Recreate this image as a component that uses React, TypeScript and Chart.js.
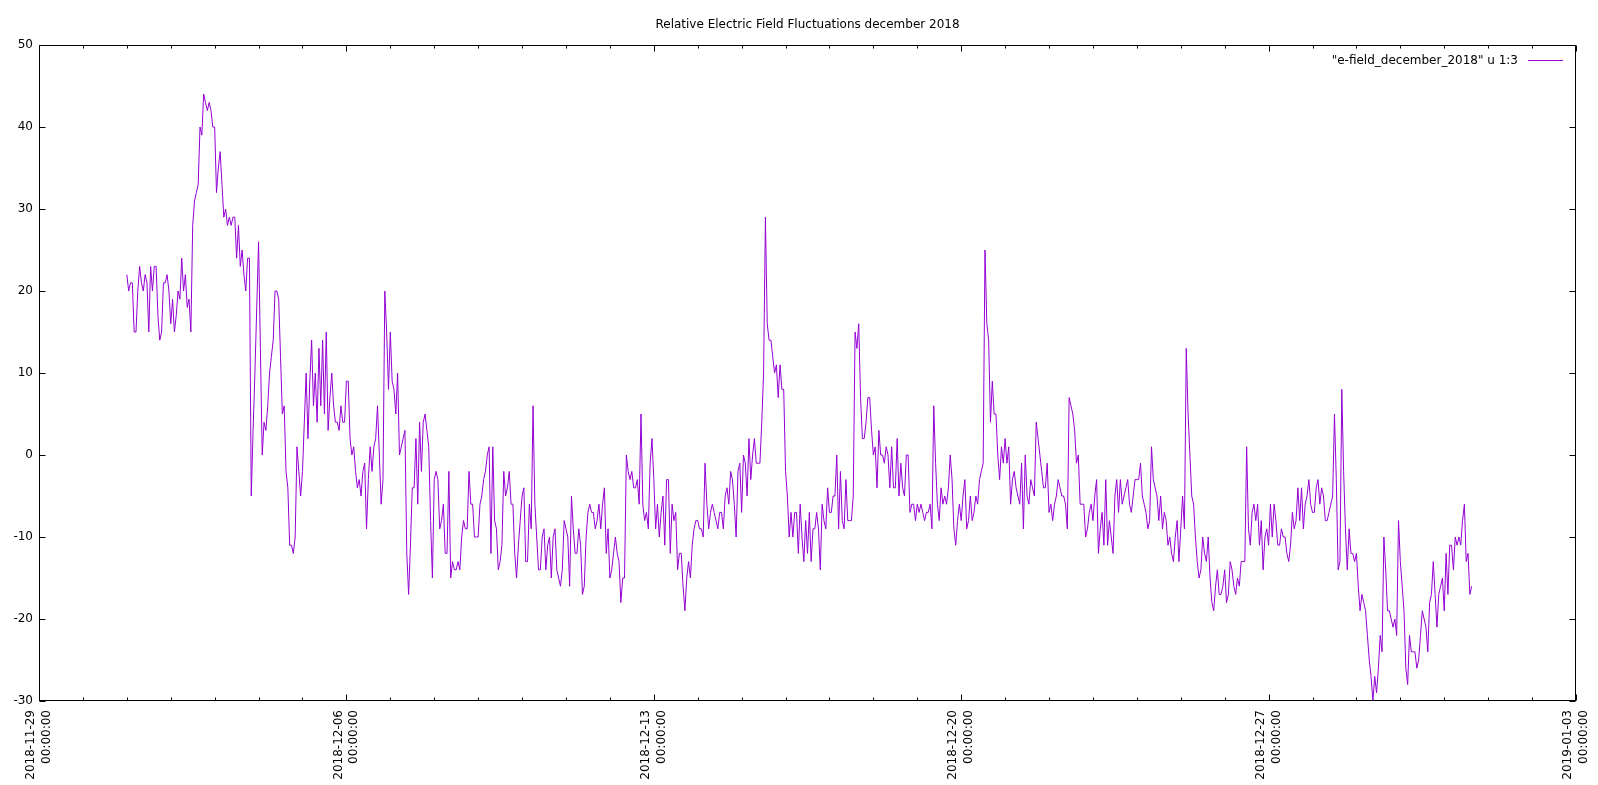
import React, { useEffect, useRef } from 'react';
import { Chart, registerables } from 'chart.js';

Chart.register(...registerables);

const chartTitle = 'Relative Electric Field Fluctuations december 2018';
const seriesLabel = '"e-field_december_2018" u 1:3';
const seriesColor = '#9400d3';
const fontFamily = '"DejaVu Sans", "Liberation Sans", sans-serif';

// hours are counted from 2018-11-29 00:00:00 (left edge of the time axis)
const axisDays = 35;
const firstSampleHour = 48; // first sample: 2018-12-01 00:00, one sample per hour
const xTickHours = [0, 168, 336, 504, 672, 840];
const xTickDates = ['2018-11-29', '2018-12-06', '2018-12-13', '2018-12-20', '2018-12-27', '2019-01-03'];
const xTickTime = '00:00:00';
const yTicks = [-30, -20, -10, 0, 10, 20, 30, 40, 50];

// hourly values, 2018-12-01 .. 2018-12-07
const week1 = [
  22, 20, 21, 21, 15, 15, 20, 23, 21, 20, 22, 21, 15, 23, 20, 23, 23, 17, 14, 15,
  21, 21, 22, 20, 16, 19, 15, 17, 20, 19, 24, 20, 22, 18, 19, 15, 28, 31, 32, 33,
  40, 39, 44, 43, 42, 43, 42, 40, 40, 32, 35, 37, 33, 29, 30, 28, 29, 28, 29, 29,
  24, 28, 23, 25, 22, 20, 24, 24, -5, 3, 10, 18, 26, 13,
  0, 4, 3, 6, 10, 12, 14, 20, 20, 19, 12, 5, 6, -2, -4, -11, -11, -12, -10, 1,
  -2, -5, -2, 4, 10, 2, 9, 14, 6, 10, 4, 13, 6, 14, 5, 15, 3, 7, 10, 6,
  4, 4, 3, 6, 4, 4, 9, 9, 2, 0, 1, -2, -4, -3, -5, -2, -1, -9, -3, 1,
  -2, 1, 2, 6, 0, -6, -3, 20, 15, 8, 15, 9, 8,
  5, 10, 0, 1, 2, 3, -12, -17, -11, -4, -4, 2, -6, 4, -2, 4, 5, 3, 1, -8, -15,
];

// hourly values, 2018-12-08 .. 2018-12-14
const week2 = [
  -3, -2, -3, -9, -8, -6, -12, -12, -2,
  -15, -13, -14, -14, -13, -14, -10, -8, -9, -9,
  -2, -6, -6, -10, -10, -10, -6, -5, -3, -2,
  0, 1, -12, 1, -8, -9, -14, -13, -11, -2,
  -5, -4, -2, -6, -6, -12, -15, -11, -8, -5,
  -4, -13, -13, -6, -9, 6, -6, -10, -14, -14,
  -10, -9, -14, -11, -10, -15, -10, -9, -14, -15,
  -16, -14, -8, -9, -10, -16, -5, -9, -12, -12,
  -9, -11, -17, -16, -10, -7, -6, -7, -7, -9,
  -8, -6, -9, -6, -4, -12, -9, -15, -14, -12,
  -10, -12, -13, -18, -15, -15, 0, -2, -3, -2,
  -4, -4, -3, -6, 5, -6, -8, -7, -9, -1,
  2, -3, -9, -6,
  -10, -7, -5, -11, -3, -3, -12, -6, -8, -7,
  -14, -12, -12, -16, -19, -15, -13, -15, -11, -9,
  -8, -8, -9, -9, -10, -1, -6, -9, -7, -6,
  -7, -8, -9, -7, -7, -9, -5, -4, -6, -2,
  -3, -6, -10, -2, -1,
];

// hourly values, 2018-12-15 .. 2018-12-21
const week3 = [
  -7, 0, -1, -5, 2,
  -3, 0, 2, -1, -1, -1, 4, 10, 29, 16,
  14, 14, 12, 10, 11, 7, 11, 8, 8, -2,
  -5, -10, -7, -10,
  -7, -7, -12, -6, -10, -13, -8, -12, -7, -13,
  -9, -9, -7, -9, -14, -6, -8, -9, -4, -7,
  -7, -5, -5, 0, -9, -2, -8, -9, -3, -8,
  -8, -8, -5, 15, 13, 16, 7, 2, 2, 4,
  7, 7, 3, 0, 1, -4, 3, 0, 0, -1,
  1, 0, -4, 1, -4, -4, 2, -5, -1, -4,
  -5, 0, 0, -7, -6, -6, -8, -6, -7, -6,
  -7, -8, -7, -7, -6, -9, 6,
  -1, -6, -8, -4, -6, -5, -6, -4, 0, -3,
  -9, -11, -8, -6, -8, -5, -3, -9, -8, -5,
  -8, -7, -5, -6, -3, -2, -1, 25, 16, 14,
  4, 9, 5, 5, 0, -3, 1, -1, 2, -1,
  1, -6, -3, -2, -4, -5, -6, -1, -9, 0,
  -5, -6, -3, -4, -5, 4, 2, 0, -2, -4,
  -4, -1,
];

// hourly values, 2018-12-22 .. 2018-12-28
const week4 = [
  -7, -6, -8, -6, -5, -3, -4, -5, -5, -6, -9, 7,
  6, 5, 3, -1, 0, -6, -6, -6, -10, -9,
  -7, -6, -8, -5, -3, -12, -9, -7, -11, -3,
  -11, -8, -10, -12, -5, -3, -7, -3, -6, -5,
  -4, -3, -6, -7, -5, -3, -3, -3, -1, -5,
  -6, -7, -9, -8, 1, -3, -4, -5, -8, -5,
  -9, -7, -8, -11, -10, -12, -13, -10, -8, -13,
  -9, -5, -9, 13, 5, 0, -5, -6, -10, -13,
  -15, -14, -10,
  -12, -13, -10, -15, -18, -19, -16, -14, -17, -17,
  -16, -14, -18, -17, -13, -14, -16, -17, -15, -16,
  -13, -13, -13, 1, -9, -11, -7, -6, -8, -6,
  -11, -8, -14, -10, -9, -11, -6, -10, -6, -8,
  -11, -11, -9, -10, -10, -12, -13, -11, -7, -9,
  -8, -4, -8, -4, -9, -6, -5, -3, -6, -7,
  -7, -4, -3, -6, -4, -5, -8, -8, -7, -6,
  -5,
  5, -3, -14, -13, 8, -2, -9, -14, -9, -12, -12, -13,
];

// hourly values, 2018-12-29 .. 2018-12-31 15:00
const week5 = [
  -12, -16, -19, -17, -18, -19, -22, -25,
  -27, -30, -27, -29, -26, -22, -24, -10, -14, -19,
  -19, -20, -21, -20, -22, -8, -13, -16, -19, -26,
  -28, -22, -24, -24, -24, -26, -25, -22, -19, -20,
  -21, -24, -18, -17, -13, -17, -21, -17, -16, -15,
  -19, -12, -17, -11, -11, -14, -10, -11, -10, -11,
  -8, -6, -13, -12, -17, -16,
];

const framePlugin = {
  id: 'gnuplotFrame',
  afterDatasetsDraw(chart: any) {
    const { ctx, chartArea: a, scales } = chart;
    const xs = scales.x;
    const ys = scales.y;
    const L = Math.round(a.left) + 0.5;
    const R = Math.round(a.right) - 0.5;
    const T = Math.round(a.top) + 0.5;
    const B = Math.round(a.bottom) - 0.5;
    ctx.save();
    ctx.strokeStyle = '#000';
    ctx.lineWidth = 1;
    ctx.beginPath();
    for (let d = 0; d <= axisDays; d++) {
      const px = Math.round(xs.getPixelForValue(d * 24)) + 0.5;
      const len = xTickHours.includes(d * 24) ? 6 : 3;
      ctx.moveTo(px, B);
      ctx.lineTo(px, B - len);
      ctx.moveTo(px, T);
      ctx.lineTo(px, T + len);
    }
    for (const v of yTicks) {
      const py = Math.round(ys.getPixelForValue(v)) + 0.5;
      ctx.moveTo(L, py);
      ctx.lineTo(L + 6, py);
      ctx.moveTo(R, py);
      ctx.lineTo(R - 6, py);
    }
    ctx.stroke();
    ctx.strokeRect(L, T, R - L, B - T);

    // key (gnuplot style: text, then line sample)
    const ly = Math.round(a.top + 15) + 0.5;
    ctx.font = `12px ${fontFamily}`;
    ctx.fillStyle = '#000';
    ctx.textAlign = 'right';
    ctx.textBaseline = 'middle';
    ctx.fillText(seriesLabel, a.right - 58, ly);
    ctx.strokeStyle = seriesColor;
    ctx.beginPath();
    ctx.moveTo(a.right - 48, ly);
    ctx.lineTo(a.right - 13, ly);
    ctx.stroke();
    ctx.restore();
  },
};

export default function App() {
  const ref = useRef<HTMLCanvasElement>(null);

  useEffect(() => {
    document.body.style.margin = '0';
    const values = [...week1, ...week2, ...week3, ...week4, ...week5];
    const points = values.map((v, i) => ({ x: firstSampleHour + i, y: v }));
    const tickFont = { family: fontFamily, size: 12, lineHeight: 1.32 };

    const chart = new Chart(ref.current as HTMLCanvasElement, {
      type: 'line',
      data: {
        datasets: [
          {
            label: seriesLabel,
            data: points,
            borderColor: seriesColor,
            backgroundColor: seriesColor,
            borderWidth: 1,
            pointRadius: 0,
            tension: 0,
            fill: false,
          },
        ],
      },
      options: {
        responsive: false,
        animation: false,
        devicePixelRatio: 1,
        layout: { padding: { left: 0, right: 22, top: 0, bottom: 0 } },
        plugins: {
          legend: { display: false },
          tooltip: { enabled: false },
          title: {
            display: true,
            fullSize: false,
            text: chartTitle,
            color: '#000',
            font: { family: fontFamily, size: 12, weight: 'normal', lineHeight: 1.2 },
            padding: { top: 18, bottom: 12.6 },
          },
        },
        scales: {
          x: {
            type: 'linear',
            min: 0,
            max: axisDays * 24,
            afterBuildTicks: (s: any) => {
              s.ticks = xTickHours.map((v) => ({ value: v }));
            },
            afterFit: (s: any) => {
              s.height = 84;
              s.paddingLeft = 0;
              s.paddingRight = 0;
            },
            ticks: {
              autoSkip: false,
              minRotation: 90,
              maxRotation: 90,
              padding: 9,
              labelOffset: -7.9,
              color: '#000',
              font: tickFont,
              callback: (_v: any, i: number) => [xTickDates[i], xTickTime],
            },
            grid: { display: false, drawTicks: false },
            border: { display: false },
          },
          y: {
            min: -30,
            max: 50,
            afterBuildTicks: (s: any) => {
              s.ticks = yTicks.map((v) => ({ value: v }));
            },
            afterFit: (s: any) => {
              s.width = 39;
            },
            ticks: {
              padding: 6,
              color: '#000',
              font: { family: fontFamily, size: 12 },
            },
            grid: { display: false, drawTicks: false },
            border: { display: false },
          },
        },
      },
      plugins: [framePlugin],
    } as any);

    return () => chart.destroy();
  }, []);

  return (
    <div style={{ width: 1598, height: 785 }}>
      <canvas ref={ref} width={1598} height={785} style={{ display: 'block' }} />
    </div>
  );
}
